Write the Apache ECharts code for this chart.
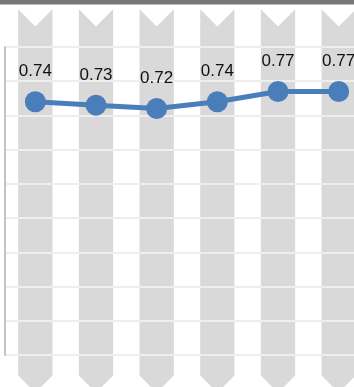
<!DOCTYPE html>
<html>
<head>
<meta charset="utf-8">
<script src="https://cdn.jsdelivr.net/npm/echarts@6/dist/echarts.min.js"></script>
<style>
  html, body { margin: 0; padding: 0; background: #ffffff; }
  #chart { width: 354px; height: 387px; }
</style>
</head>
<body>
<div id="chart"></div>
<script>
// Six periods, one ratio each
const categories = ['1', '2', '3', '4', '5', '6'];
const ratios = [0.74, 0.73, 0.72, 0.74, 0.77, 0.77];

// Value axis ticks
const axisMin = 0;
const axisMax = 0.9;
const axisStep = 0.1;

// Extent of the grey chevron bands behind each period, in axis units
const bandTop = 1.01;
const bandBottom = -0.06;

const chart = echarts.init(document.getElementById('chart'), null, { renderer: 'canvas' });

const bandData = categories.map(function (c) { return [c, bandTop, bandBottom]; });

chart.setOption({
  animation: false,
  backgroundColor: '#ffffff',
  grid: {
    left: 5, top: 47, width: 364, height: 308,
    containLabel: false,
    outerBoundsMode: 'none'
  },
  graphic: [{
    type: 'rect',
    shape: { x: 0, y: 0, width: 354, height: 4.5 },
    style: { fill: '#777777' },
    z: 10
  }],
  xAxis: {
    type: 'category',
    data: categories,
    boundaryGap: true,
    axisLine: { show: false },
    axisTick: { show: false },
    axisLabel: { show: false },
    splitLine: { show: false }
  },
  yAxis: {
    type: 'value',
    min: axisMin,
    max: axisMax,
    interval: axisStep,
    z: 2,
    axisLabel: { show: false },
    axisTick: { show: false },
    axisLine: { show: true, lineStyle: { color: '#c4c4c4', width: 2 } },
    splitLine: { show: true, lineStyle: { color: '#eeeeee', width: 2 } }
  },
  series: [
    {
      type: 'custom',
      z: 1,
      silent: true,
      clip: false,
      data: bandData,
      renderItem: function (params, api) {
        const x = api.coord([api.value(0), 0])[0];
        const yTop = api.coord([api.value(0), api.value(1)])[1];
        const yBot = api.coord([api.value(0), api.value(2)])[1];
        const h = api.size([1, 0])[0] * 0.565 / 2;
        return {
          type: 'polygon',
          shape: {
            points: [
              [x - h, yTop], [x, yTop + h], [x + h, yTop],
              [x + h, yBot], [x, yBot + h], [x - h, yBot]
            ]
          },
          style: { fill: '#d9d9d9' }
        };
      }
    },
    {
      type: 'line',
      z: 3,
      data: ratios,
      symbol: 'circle',
      symbolSize: 21,
      lineStyle: { color: '#4a7ebb', width: 5 },
      itemStyle: { color: '#4a7ebb' },
      label: {
        show: true,
        position: 'top',
        distance: 11,
        color: '#111111',
        fontFamily: 'Liberation Sans',
        fontSize: 17,
        formatter: function (p) { return p.value.toFixed(2); }
      }
    }
  ]
});
</script>
</body>
</html>
